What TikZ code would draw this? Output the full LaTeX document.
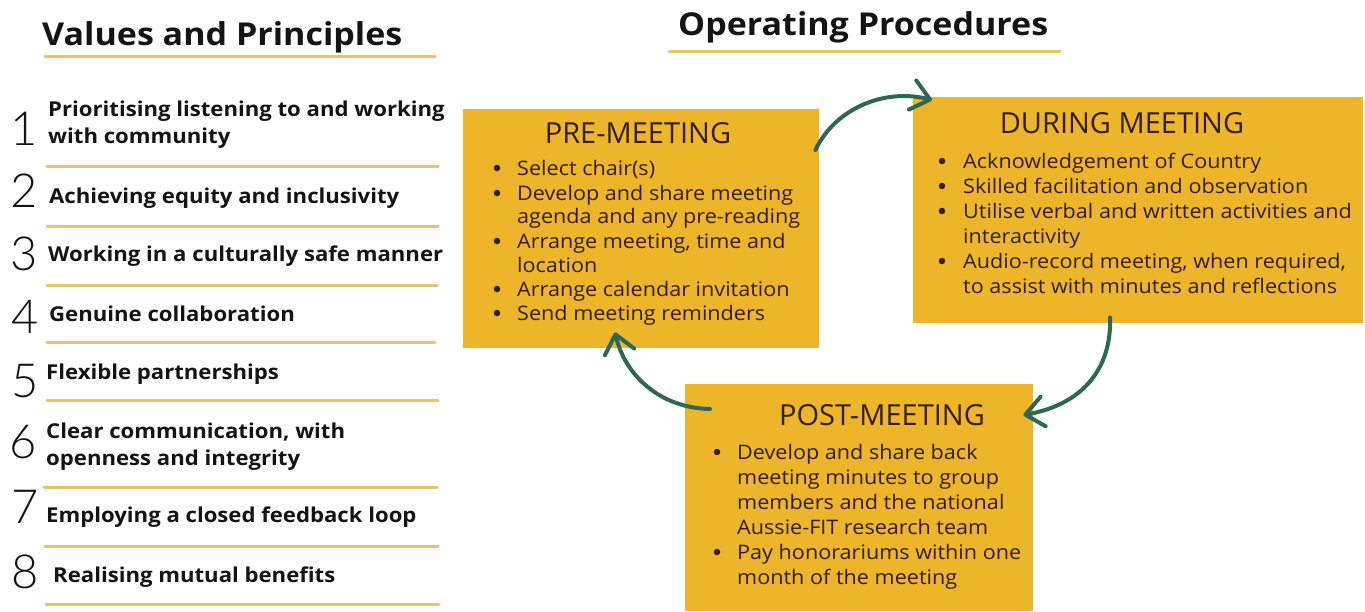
\documentclass[tikz,border=0pt]{standalone}
\usepackage{fontspec}
\setmainfont{Open Sans}[FakeStretch=1.08]
\newfontfamily\stagefont{Open Sans}
\IfFontExistsTF{Lato Light}{\newfontfamily\digitfont{Lato Light}}{\newfontfamily\digitfont{Lato}}
\usetikzlibrary{arrows.meta,calc}

\definecolor{boxgold}{RGB}{236,181,42}
\definecolor{rulegold}{RGB}{226,198,104}
\definecolor{loopgreen}{RGB}{46,104,84}
\definecolor{boxink}{RGB}{52,30,28}
\definecolor{ink}{RGB}{20,20,20}

\tikzset{
  stagebox/.style={fill=boxgold, draw=none, inner sep=0pt, anchor=north west},
  stagetitle/.style={font=\stagefont\fontsize{29}{31}\selectfont, text=boxink, anchor=base, inner sep=0pt},
  stageline/.style={font=\fontsize{20}{24}\selectfont, text=boxink, anchor=base west, inner sep=0pt},
  dotmark/.style={circle, fill=boxink, minimum size=6.5pt, inner sep=0pt},
  heading/.style={font=\bfseries\fontsize{31.5}{34}\selectfont, text=ink, anchor=base west, inner sep=0pt},
  valuetext/.style={font=\bfseries\fontsize{20.5}{24}\selectfont, text=ink, anchor=base west, inner sep=0pt},
  valuenum/.style={font=\digitfont\fontsize{47}{50}\selectfont, text=ink, anchor=base, inner sep=0pt},
  rule/.style={draw=rulegold, line width=3pt, line cap=round},
  looparrow/.style={draw=loopgreen, line width=4pt, line cap=round,
    -{Straight Barb[length=18pt,width=30pt,line cap=round,line join=round]}},
}

\begin{document}
\begin{tikzpicture}[x=1pt,y=-1pt]
\useasboundingbox[fill=white] (0,0) rectangle (1365,611);

% ---------- Values and Principles ----------
\node[heading] (vhead) at (42,45) {Values and Principles};
\draw[rule] (45,56.7) -- (435,56.7);

\node[valuenum] (n1) at (24,145) {1};
\node[valuetext] (v1a) at (48,116.7) {Prioritising listening to and working};
\node[valuetext] (v1b) at (48,143.3) {with community};
\draw[rule] (47,166.7) -- (438,166.7);

\node[valuenum] (n2) at (24,207) {2};
\node[valuetext] (v2) at (49,203.3) {Achieving equity and inclusivity};
\draw[rule] (47,226) -- (438,226);

\node[valuenum] (n3) at (24,270) {3};
\node[valuetext] (v3) at (48,261) {Working in a culturally safe manner};
\draw[rule] (47,285) -- (437,285);

\node[valuenum] (n4) at (25,333) {4};
\node[valuetext] (v4) at (49,321.7) {Genuine collaboration};
\draw[rule] (47,342.7) -- (435,342.7);

\node[valuenum] (n5) at (25,397) {5};
\node[valuetext] (v5) at (46,379) {Flexible partnerships};
\draw[rule] (47,400.7) -- (438,400.7);

\node[valuenum] (n6) at (23,458) {6};
\node[valuetext] (v6a) at (46,438.3) {Clear communication, with};
\node[valuetext] (v6b) at (46,465.7) {openness and integrity};
\draw[rule] (44,487.3) -- (437,487.3);

\node[valuenum] (n7) at (25,523) {7};
\node[valuetext] (v7) at (46,522.7) {Employing a closed feedback loop};
\draw[rule] (45,546) -- (438,546);

\node[valuenum] (n8) at (25,588) {8};
\node[valuetext] (v8) at (53,582.7) {Realising mutual benefits};
\draw[rule] (46,604) -- (439,604);

% ---------- Operating Procedures ----------
\node[heading] (ohead) at (678,35) {Operating Procedures};
\draw[rule] (669,51) -- (1060,51);

% stage boxes
\node[stagebox, minimum width=356pt, minimum height=239pt] (pre) at (463,109) {};
\node[stagebox, minimum width=450pt, minimum height=226pt] (during) at (913,97) {};
\node[stagebox, minimum width=348pt, minimum height=227pt] (post) at (685,384) {};

% pre-meeting
\node[stagetitle] (pretitle) at (638,143) {PRE-MEETING};
\foreach \y/\b/\t [count=\i] in {
    175/1/{Select chair(s)},
    200/1/{Develop and share meeting},
    223/0/{agenda and any pre-reading},
    248/1/{Arrange meeting, time and},
    272/0/{location},
    296/1/{Arrange calendar invitation},
    320/1/{Send meeting reminders}}{
  \node[stageline] (pre-l\i) at (517,\y) {\t};
  \ifnum\b=1 \node[dotmark] (pre-d\i) at (497,\y-7) {}; \fi
}

% during meeting
\node[stagetitle] (durtitle) at (1122,133) {DURING MEETING};
\foreach \y/\b/\t [count=\i] in {
    168/1/{Acknowledgement of Country},
    193/1/{Skilled facilitation and observation},
    218/1/{Utilise verbal and written activities and},
    243/0/{interactivity},
    268/1/{Audio-record meeting, when required,},
    293/0/{to assist with minutes and reflections}}{
  \node[stageline] (dur-l\i) at (963,\y) {\t};
  \ifnum\b=1 \node[dotmark] (dur-d\i) at (942,\y-7) {}; \fi
}

% post-meeting
\node[stagetitle] (posttitle) at (882,425) {POST-MEETING};
\foreach \y/\b/\t [count=\i] in {
    459/1/{Develop and share back},
    484/0/{meeting minutes to group},
    509/0/{members and the national},
    534/0/{Aussie-FIT research team},
    559/1/{Pay honorariums within one},
    584/0/{month of the meeting}}{
  \node[stageline] (post-l\i) at (737,\y) {\t};
  \ifnum\b=1 \node[dotmark] (post-d\i) at (717,\y-7) {}; \fi
}

% cycle arrows
\draw[looparrow] ($(pre.north east)+(-4,41)$)
  .. controls ($(pre.north east)+(16,-1)$) and ($(during.north west)+(-28,-9)$)
  .. ($(during.north west)+(19,3)$);
\draw[looparrow] ($(during.south west)+(197,-6)$)
  .. controls ($(during.south west)+(199,47)$) and ($(post.north east)+(47,21)$)
  .. ($(post.north east)+(-10,31)$);
\draw[looparrow] ($(post.north west)+(25,25)$)
  .. controls ($(post.north west)+(-25,24)$) and ($(pre.south west)+(162,27)$)
  .. ($(pre.south west)+(152,-16)$);
\end{tikzpicture}
\end{document}
